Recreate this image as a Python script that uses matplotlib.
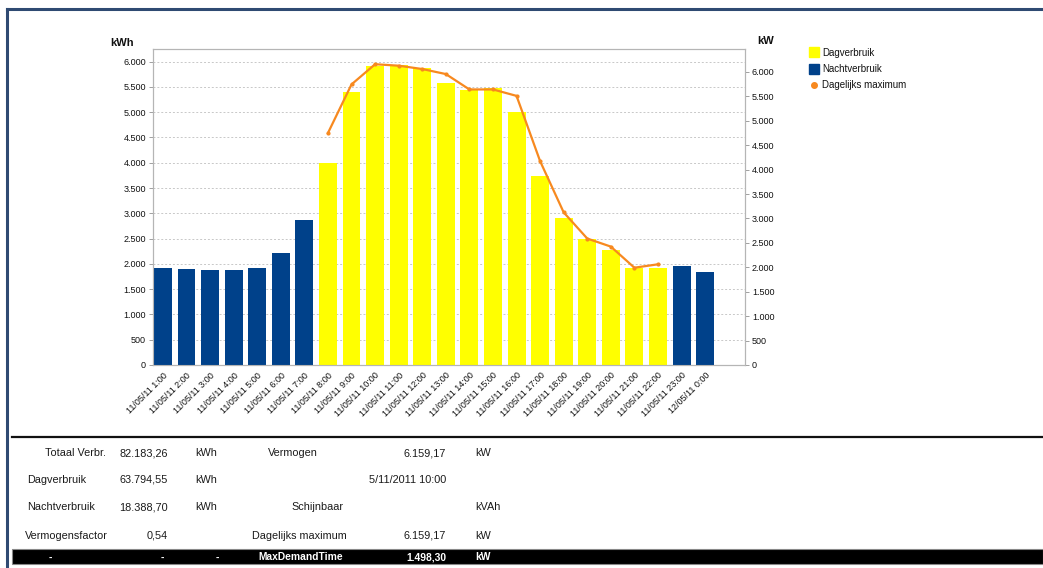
import matplotlib
matplotlib.use("Agg")
import matplotlib.pyplot as plt
from matplotlib.ticker import FuncFormatter, MultipleLocator
from matplotlib.lines import Line2D
from matplotlib.patches import Rectangle

plt.rcParams['font.family'] = ['Liberation Sans', 'DejaVu Sans']

# ---------------- data ----------------
hours = ["11/05/11 1:00", "11/05/11 2:00", "11/05/11 3:00", "11/05/11 4:00",
         "11/05/11 5:00", "11/05/11 6:00", "11/05/11 7:00", "11/05/11 8:00",
         "11/05/11 9:00", "11/05/11 10:00", "11/05/11 11:00", "11/05/11 12:00",
         "11/05/11 13:00", "11/05/11 14:00", "11/05/11 15:00", "11/05/11 16:00",
         "11/05/11 17:00", "11/05/11 18:00", "11/05/11 19:00", "11/05/11 20:00",
         "11/05/11 21:00", "11/05/11 22:00", "11/05/11 23:00", "12/05/11 0:00"]
consumption = [1925, 1890, 1885, 1871, 1925, 2222, 2863, 4000,
               5397, 5918, 5940, 5873, 5587, 5442, 5488, 5012,
               3736, 2909, 2500, 2268, 1917, 1920, 1956, 1838]
is_day = [False] * 7 + [True] * 15 + [False] * 2
daily_max_idx = list(range(7, 22))
daily_max = [4749, 5745, 6158, 6128, 6060, 5957, 5642, 5642, 5510,
             4173, 3124, 2589, 2424, 1992, 2062]

table_rows = [
    ["Totaal Verbr.", "82.183,26", "kWh", "Vermogen", "6.159,17", "kW"],
    ["Dagverbruik", "63.794,55", "kWh", "", "5/11/2011 10:00", ""],
    ["Nachtverbruik", "18.388,70", "kWh", "Schijnbaar", "", "kVAh"],
    ["Vermogensfactor", "0,54", "", "Dagelijks maximum", "6.159,17", "kW"],
]
footer_row = ["-", "-", "-", "MaxDemandTime", "1.498,30", "kW"]

DAY_COLOR = "#FFFF00"
NIGHT_COLOR = "#00418A"
LINE_COLOR = "#F7891F"

W, H = 1043, 568
fig = plt.figure(figsize=(W / 100, H / 100), dpi=100)

def fx(px):
    return px / W

def fy(py):
    return 1 - py / H

ax = fig.add_axes([fx(153), fy(365), fx(745) - fx(153), fy(49) - fy(365)])
ax2 = ax.twinx()
ax.set_zorder(ax2.get_zorder() - 1)
ax.patch.set_visible(True)
ax2.patch.set_visible(False)

x = list(range(len(hours)))
colors = [DAY_COLOR if d else NIGHT_COLOR for d in is_day]
ax.bar(x, consumption, width=0.76, color=colors, zorder=3)
ax.set_xlim(-0.42, 24.69)
ax.set_ylim(0, 6250)
ax.yaxis.set_major_locator(MultipleLocator(500))
fmt = FuncFormatter(lambda v, p: f"{int(v):,}".replace(",", "."))
ax.yaxis.set_major_formatter(fmt)
ax.grid(axis='y', linestyle=(0, (2, 2)), color="#c8c8c8", linewidth=0.7, zorder=0)
ax.set_xticks(x)
ax.set_xticklabels(hours, rotation=45, ha='right', rotation_mode='anchor',
                   fontsize=6.5, color="#111111")
ax.tick_params(axis='x', length=0, pad=4)
ax.tick_params(axis='y', labelsize=6.5, colors="#111111", length=3, width=0.6,
               direction='out', pad=2)

ax2.plot(daily_max_idx, daily_max, color=LINE_COLOR, linewidth=1.6,
         marker='o', markersize=2, zorder=4)
ax2.set_ylim(0, 6470)
ax2.yaxis.set_major_locator(MultipleLocator(500))
ax2.yaxis.set_major_formatter(fmt)
ax2.tick_params(axis='y', labelsize=6.5, colors="#111111", length=3, width=0.6,
                direction='out', pad=2)

for a in (ax, ax2):
    for s in a.spines.values():
        s.set_color("#b5b5b5")
        s.set_linewidth(0.8)
ax.tick_params(axis='y', color="#909090")
ax2.tick_params(axis='y', color="#909090")

fig.text(fx(110), fy(43), "kWh", fontsize=8, fontweight='bold', color="#111111",
         va='center', ha='left')
fig.text(fx(757), fy(41), "kW", fontsize=8, fontweight='bold', color="#111111",
         va='center', ha='left')

handles = [
    Line2D([], [], linestyle='none', marker='s', markersize=6.5, color=DAY_COLOR),
    Line2D([], [], linestyle='none', marker='s', markersize=6.5, color=NIGHT_COLOR),
    Line2D([], [], linestyle='none', marker='o', markersize=4, color=LINE_COLOR),
]
leg = fig.legend(handles, ["Dagverbruik", "Nachtverbruik", "Dagelijks maximum"],
                 loc='upper left', bbox_to_anchor=(fx(805), fy(43)), frameon=False,
                 fontsize=7, handlelength=0.8, handletextpad=0.45,
                 labelspacing=0.65, borderpad=0)
for t in leg.get_texts():
    t.set_color("#111111")

# frame lines
fig.add_artist(Line2D([fx(7), fx(1043)], [fy(8.5), fy(8.5)], color="#2F4A72", linewidth=2.2))
fig.add_artist(Line2D([fx(7), fx(7)], [fy(8.5), fy(568)], color="#2F4A72", linewidth=2.2))
fig.add_artist(Line2D([fx(12), fx(1043)], [fy(437), fy(437)], color="#111111", linewidth=1.6))
fig.add_artist(Rectangle((fx(12), fy(564)), fx(1043) - fx(12), fy(549) - fy(564),
                         facecolor="black", edgecolor="#888888", linewidth=0.8))

# table
row_y = [453, 480, 507, 536]
label_x = [45, 27, 27, 25]
mid_right_x = [318, 0, 343, 347]
fs = 7.8
tc = "#1a1a1a"
for i, row in enumerate(table_rows):
    y = fy(row_y[i])
    fig.text(fx(label_x[i]), y, row[0], fontsize=fs, color=tc, va='center', ha='left')
    fig.text(fx(168), y, row[1], fontsize=fs, color=tc, va='center', ha='right')
    fig.text(fx(195), y, row[2], fontsize=fs, color=tc, va='center', ha='left')
    if row[3]:
        fig.text(fx(mid_right_x[i]), y, row[3], fontsize=fs, color=tc, va='center', ha='right')
    fig.text(fx(446), y, row[4], fontsize=fs, color=tc, va='center', ha='right')
    fig.text(fx(475), y, row[5], fontsize=fs, color=tc, va='center', ha='left')

yb = fy(557.5)
fs2 = 7.4
fig.text(fx(50), yb, footer_row[0], fontsize=fs2, color='white', fontweight='bold', va='center', ha='center')
fig.text(fx(162), yb, footer_row[1], fontsize=fs2, color='white', fontweight='bold', va='center', ha='center')
fig.text(fx(217), yb, footer_row[2], fontsize=fs2, color='white', fontweight='bold', va='center', ha='center')
fig.text(fx(343), yb, footer_row[3], fontsize=fs2, color='white', fontweight='bold', va='center', ha='right')
fig.text(fx(446), yb, footer_row[4], fontsize=fs2, color='white', fontweight='bold', va='center', ha='right')
fig.text(fx(475), yb, footer_row[5], fontsize=fs2, color='white', fontweight='bold', va='center', ha='left')

fig.savefig("out.png", dpi=100)
